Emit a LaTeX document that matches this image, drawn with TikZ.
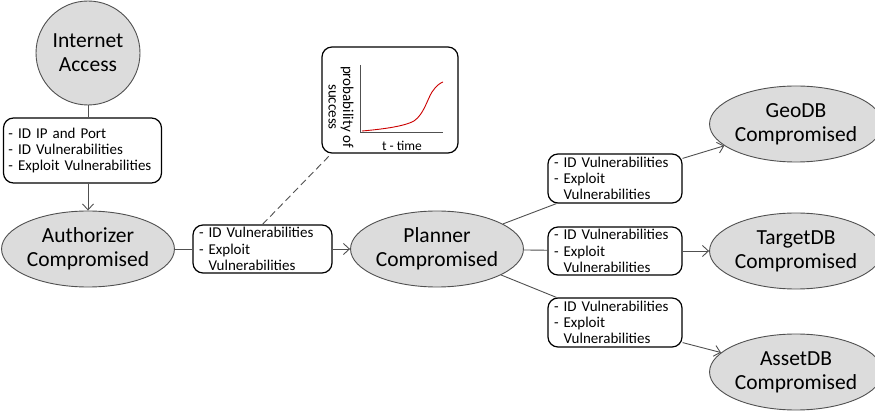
\documentclass[tikz,border=0pt]{standalone}
\usepackage{fontspec}
\setmainfont{Carlito}
\usetikzlibrary{arrows.meta,shapes.geometric,calc}

\definecolor{edgegray}{RGB}{80,80,80}
\definecolor{nodefill}{RGB}{220,220,220}
\definecolor{curvered}{RGB}{204,0,0}

\tikzset{
  state/.style={ellipse, draw=edgegray, line width=0.9pt, fill=nodefill,
    minimum width=160pt, minimum height=76pt, inner sep=0pt, align=center,
    font=\fontsize{21.5}{24}\selectfont},
  stepbox/.style={draw=black, line width=1.2pt, rounded corners=10pt, fill=white,
    align=left, inner xsep=6pt, inner ysep=0pt,
    font=\fontsize{15}{16.3}\selectfont},
  edge/.style={draw=edgegray, line width=0.9pt},
  arr/.style={edge, -{Straight Barb[length=6pt,width=11pt]}},
}

\begin{document}
\begin{tikzpicture}[x=1pt,y=-1pt]
\useasboundingbox (0,0) rectangle (875,411);

% attack states
\node[state, circle, minimum size=104pt] (ia) at (88,53) {Internet\\Access};
\node[state] (auth) at (88,249) {Authorizer\\Compromised};
\node[state] (pl)   at (437,249) {Planner\\Compromised};
\node[state, minimum width=158pt] (geo) at (796,124) {GeoDB\\Compromised};
\node[state, minimum width=158pt] (tg)  at (796,251) {TargetDB\\Compromised};
\node[state, minimum width=158pt] (as)  at (796,372) {AssetDB\\Compromised};

% attack steps
\node[stepbox, text width=148pt, minimum height=65pt, inner xsep=5pt] (b1) at (82.5,150.5)
  {- ID IP and Port\\- ID Vulnerabilities\\- Exploit Vulnerabilities};
\node[stepbox, text width=127pt, minimum height=48pt] (b2) at (262.5,249)
  {- ID Vulnerabilities\\- Exploit\\\hphantom{- }Vulnerabilities};
\node[stepbox, text width=122pt, minimum height=49pt] (b3) at (615,178.5)
  {- ID Vulnerabilities\\- Exploit\\\hphantom{- }Vulnerabilities};
\node[stepbox, text width=122pt, minimum height=48pt] (b4) at (615,251)
  {- ID Vulnerabilities\\- Exploit\\\hphantom{- }Vulnerabilities};
\node[stepbox, text width=122pt, minimum height=49pt] (b5) at (615,322.5)
  {- ID Vulnerabilities\\- Exploit\\\hphantom{- }Vulnerabilities};

% success-probability callout
\node[draw=black, line width=1.2pt, rounded corners=10pt, fill=white,
  minimum width=136pt, minimum height=106pt] (cb) at (390,100) {};
\coordinate (org) at (360,132);
\coordinate (ytop) at (360,65);
\coordinate (xend) at (443,132);
\draw[edgegray, line width=0.9pt] (ytop) -- (org) -- (xend);
\draw[curvered, line width=0.9pt] (362,131) .. controls (385,129) and (405,126) .. (414,121)
  .. controls (424,114) and (427,100) .. (432,92)
  .. controls (436,86) and (440,83) .. (443,82);
\node[rotate=-90, align=center, inner sep=0pt, font=\fontsize{15}{14.5}\selectfont] (ylab) at (341,107)
  {probability of\\success};
\node[font=\fontsize{13.5}{15}\selectfont] (xlab) at (402,146) {t - time};

% connectors
\draw[edge] (ia) -- (ia |- b1.north);
\draw[arr] (ia |- b1.south) -- (auth.north);
\draw[edge] (auth) -- (b2);
\draw[arr] (b2) -- (pl);
\draw[edge, dash pattern=on 7pt off 4pt] (b2.north) -- ([xshift=10pt]cb.south west);
\draw[edge] (pl) -- ([xshift=9pt]b3.south west);
\draw[arr] ($(b3.north east)+(0,5)$) -- (geo);
\draw[edge] (pl) -- (b4);
\draw[arr] (b4) -- (tg);
\draw[edge] (pl) -- ([xshift=9pt]b5.north west);
\draw[arr] ($(b5.south east)+(0,-5)$) -- (as);
\end{tikzpicture}
\end{document}
